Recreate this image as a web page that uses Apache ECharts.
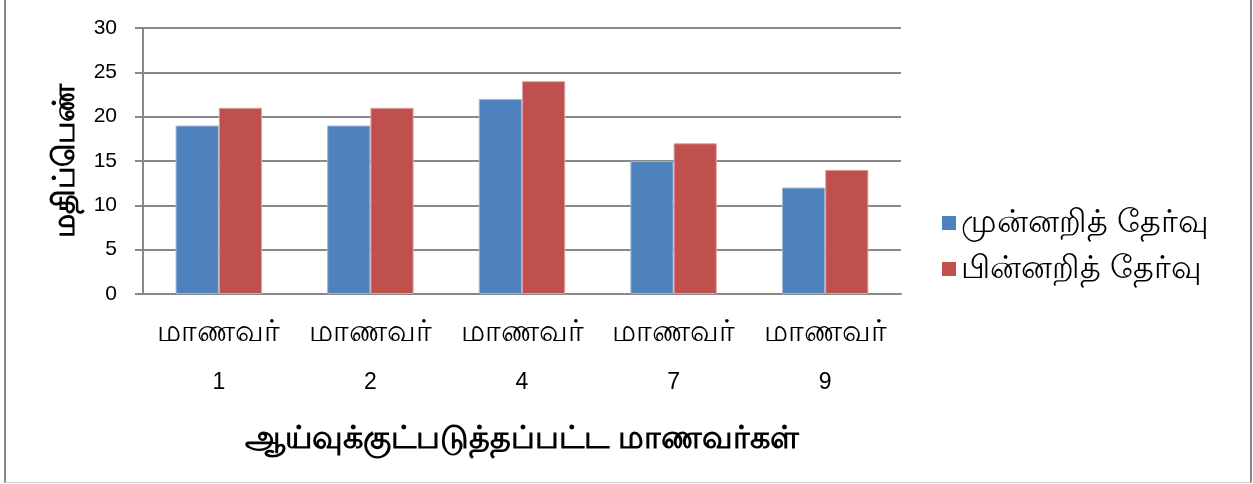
<!DOCTYPE html>
<html>
<head>
<meta charset="utf-8">
<script src="https://cdn.jsdelivr.net/npm/echarts@6/dist/echarts.min.js"></script>
<style>
    html, body { margin: 0; padding: 0; background: #fff; }
    #chart { position: absolute; left: 4px; top: 0; width: 1244px; height: 482px;
             border-left: 2px solid #888; border-right: 2px solid #888; border-bottom: 1px solid #ccc; }
</style>
</head>
<body>
<div id="chart"></div>
<script>
var categories = ['மாணவர்\n1', 'மாணவர்\n2', 'மாணவர்\n4', 'மாணவர்\n7', 'மாணவர்\n9'];
var preTest = [19, 19, 22, 15, 12];
var postTest = [21, 21, 24, 17, 14];
var seriesNames = ['முன்னறித் தேர்வு', 'பின்னறித் தேர்வு'];

var chart = echarts.init(document.getElementById('chart'));
var font = 'Arial, "Liberation Sans", "Noto Sans", sans-serif';

chart.setOption({
    animation: false,
    textStyle: { fontFamily: font },
    grid: { left: 137, right: 349, top: 28, bottom: 188 },
    legend: {
        orient: 'vertical',
        left: 931,
        top: 202,
        itemWidth: 14,
        itemHeight: 14,
        itemGap: 14,
        itemStyle: { borderWidth: 0 },
        icon: 'rect',
        textStyle: { fontSize: 32, color: '#000', fontFamily: font },
        data: seriesNames
    },
    xAxis: {
        type: 'category',
        data: categories,
        name: 'ஆய்வுக்குட்படுத்தப்பட்ட மாணவர்கள்',
        nameLocation: 'middle',
        nameGap: 129,
        nameTextStyle: { fontSize: 32, fontWeight: 'bold', color: '#000' },
        axisLine: { lineStyle: { color: '#888', width: 2 } },
        axisTick: { show: false },
        axisLabel: {
            margin: 14,
            formatter: function (v) {
                var p = v.split('\n');
                return '{t|' + p[0] + '}\n{n|' + p[1] + '}';
            },
            rich: {
                t: { fontSize: 30, lineHeight: 50, color: '#000' },
                n: { fontSize: 23, lineHeight: 50, color: '#000', fontFamily: '"Liberation Sans Narrow", "Arial Narrow", Arial, sans-serif' }
            }
        }
    },
    yAxis: {
        type: 'value',
        min: 0,
        max: 30,
        interval: 5,
        name: 'மதிப்பெண்',
        nameLocation: 'middle',
        nameGap: 62,
        nameTextStyle: { fontSize: 30, fontWeight: 'bold', color: '#000' },
        axisLine: { show: true, lineStyle: { color: '#888', width: 2 } },
        axisTick: { show: true, length: 8, lineStyle: { color: '#888', width: 2 } },
        axisLabel: { fontSize: 21, color: '#000', margin: 26 },
        splitLine: { lineStyle: { color: '#888', width: 2 } }
    },
    series: [
        {
            name: seriesNames[0],
            type: 'bar',
            data: preTest,
            barGap: '0%',
            barCategoryGap: '43%',
            itemStyle: { color: '#4F81BD', borderColor: '#9DB6DA', borderWidth: 1 }
        },
        {
            name: seriesNames[1],
            type: 'bar',
            data: postTest,
            itemStyle: { color: '#C0504D', borderColor: '#DDA3A1', borderWidth: 1 }
        }
    ]
});
</script>
</body>
</html>
